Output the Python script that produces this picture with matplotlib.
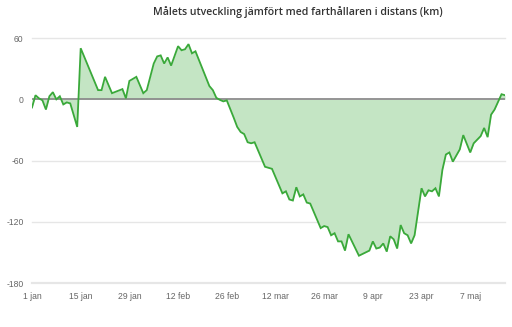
import matplotlib
matplotlib.use("Agg")
import matplotlib.pyplot as plt

# Day offsets from 1 jan and values (km)
days = [0, 1, 2, 3, 4, 5, 6, 7, 8, 9, 10, 11, 13, 14, 19, 20, 21, 23, 26, 27,
        28, 30, 32, 33, 35, 36, 37, 38, 39, 40, 42, 43, 44, 45, 46, 47, 51, 52,
        53, 54, 55, 56, 58, 59, 60, 61, 62, 63, 64, 67, 69, 72, 73, 74, 75, 76,
        77, 78, 79, 80, 83, 84, 85, 86, 87, 88, 89, 90, 91, 94, 97, 98, 99, 100,
        101, 102, 103, 104, 105, 106, 107, 108, 109, 110, 112, 113, 114, 115,
        116, 117, 118, 119, 120, 121, 123, 124, 126, 127, 129, 130, 131, 132,
        133, 135, 136]
values = [-8, 4, 1, -1, -10, 3, 7, 0, 3, -5, -3, -4, -27, 50, 9, 9, 22, 6, 10, 1,
          18, 22, 6, 9, 35, 42, 43, 35, 41, 33, 52, 48, 49, 54, 45, 47, 13, 9,
          1.5, -0.5, -2, -1, -18, -27, -32, -34, -42, -43, -42, -66, -68, -92, -90,
          -98, -99, -86, -95, -93, -101, -102, -126, -124, -125, -133, -131, -139,
          -139, -148, -132, -153, -148, -139, -146, -145, -141, -149, -134, -137,
          -146, -123, -131, -133, -141, -133, -87, -95, -89, -90, -87, -95, -69,
          -54, -52, -61, -49, -35, -52, -43, -36, -28, -37, -15, -10, 5, 4]

tick_days = [0, 14, 28, 42, 56, 70, 84, 98, 112, 126]
tick_labels = ["1 jan", "15 jan", "29 jan", "12 feb", "26 feb", "12 mar",
               "26 mar", "9 apr", "23 apr", "7 maj"]
y_ticks = [60, 0, -60, -120, -180]

title = "Målets utveckling jämfört med farthållaren i distans (km)"

fig = plt.figure(figsize=(5.12, 3.27), dpi=100)
ax = fig.add_axes([32 / 512, 1 - 283.3 / 327, (505 - 32) / 512, (283.3 - 38) / 327])

ax.set_xlim(0, 136)
ax.set_ylim(-180, 60)

for yv in y_ticks:
    if yv == 0:
        continue
    lw = 1.6 if yv == -180 else 1.0
    ax.axhline(yv, color="#e6e6e6", lw=lw, zorder=0, clip_on=False)

ax.fill_between(days, values, 0, color="#c4e5c4", lw=0, zorder=1)
ax.axhline(0, color="#8c8c8c", lw=1.3, zorder=2)
ax.plot(days, values, color="#3aa93a", lw=1.3, zorder=3, solid_joinstyle="miter")

for s in ax.spines.values():
    s.set_visible(False)

ax.set_yticks(y_ticks)
ax.set_yticklabels([str(v) for v in y_ticks])
ax.set_xticks(tick_days)
ax.set_xticklabels(tick_labels)
ax.tick_params(axis="both", length=0, labelsize=6.2, labelcolor="#666666")
ax.tick_params(axis="y", pad=6)
ax.tick_params(axis="x", pad=6.5)
for lab in ax.get_xticklabels() + ax.get_yticklabels():
    lab.set_fontfamily("Liberation Sans")

fig.text(298 / 512, 1 - 12 / 327, title, ha="center", va="center",
         fontsize=7.6, color="#333333", fontfamily="Open Sans", fontweight="semibold")

fig.savefig("out.png", dpi=100)
